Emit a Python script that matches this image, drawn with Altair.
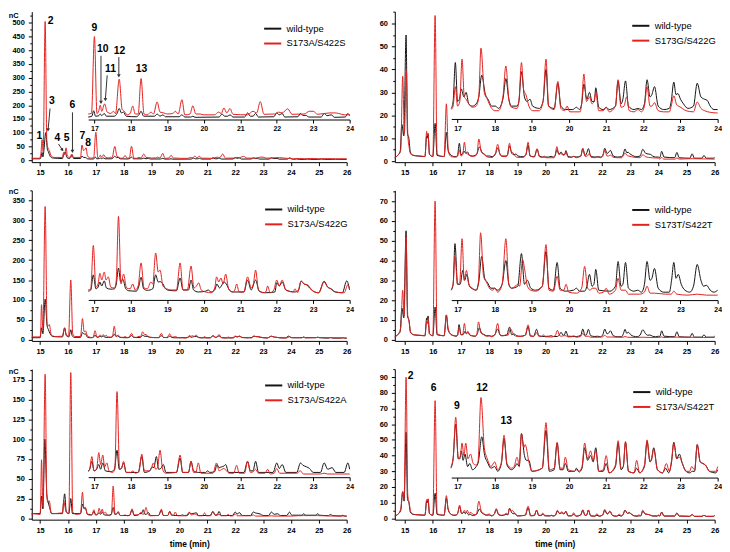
import altair as alt
import pandas as pd

FONT = "Liberation Sans"
WT = "wild-type"
BLACK = "#141414"
RED = "#e4211f"

# ---------------- data (t in min, signal in nC) ----------------
# *_MAIN : points read on the main axes (outside 16.83-24 min)
# *_INSET: points read in the inset, in units of the panel's left axis

# Panel 1: S173A/S422S
P1_MUT = "S173A/S422S"
P1_WT_MAIN = [(14.7,5),(15.0,5),(15.04,15),(15.07,28),(15.1,12),(15.14,40),(15.2,100),(15.26,40),(15.3,30),(15.36,14),(15.45,8),(15.8,6),(15.84,18),(15.87,25),(15.9,30),(15.96,10),(16.05,6),(16.1,10),(16.15,20),(16.2,6),(16.45,6),(16.5,15),(16.56,10),(16.62,10),(16.7,5),(16.8,4),
              (24.1,3),(24.2,4.5),(24.3,3),(24.5,3),(24.6,4),(24.7,3),(25.0,3),(25.1,4),(25.2,3),(25.5,3),(25.6,3.5),(25.7,3),(26.0,3)]
P1_MUT_MAIN = [(14.7,7),(14.98,7),(15.03,25),(15.07,75),(15.11,30),(15.18,505),(15.24,70),(15.28,45),(15.33,35),(15.4,15),(15.5,10),(15.8,10),(15.84,28),(15.88,20),(15.93,45),(15.98,15),(16.07,10),(16.13,22),(16.19,10),(16.45,10),(16.5,55),(16.56,35),(16.6,38),(16.65,45),(16.7,15),(16.8,8),
               (24.1,5),(24.3,6),(24.5,5),(24.8,6),(25.0,5),(25.3,5.5),(25.6,5),(26.0,5)]
P1_WT_INSET = [(16.83,157),(16.93,160),(16.98,180),(17.03,160),(17.12,162),(17.16,168),(17.2,162),(17.27,170),(17.33,160),(17.55,160),(17.62,170),(17.68,188),(17.74,172),(17.8,175),(17.87,160),(18.15,158),(18.22,165),(18.28,178),(18.35,160),(18.65,160),(18.72,168),(18.8,160),(18.88,165),(18.95,158),(19.32,158),(19.4,165),(19.48,157),(19.64,157),(19.7,160),(19.76,156),(20.42,157),(20.5,168),(20.57,160),(20.65,160),(20.72,165),(20.8,157),(21.12,157),(21.2,172),(21.28,160),(21.35,160),(21.42,170),(21.5,157),(21.92,158),(22.0,172),(22.07,165),(22.15,170),(22.22,157),(22.58,158),(22.65,170),(22.72,163),(22.8,163),(22.88,157),(23.22,157),(23.3,170),(23.38,162),(23.5,165),(23.58,156),(23.88,157),(23.95,170),(24.0,162)]
P1_MUT_INSET = [(16.83,168),(16.92,170),(17.0,450),(17.07,170),(17.12,180),(17.16,200),(17.2,178),(17.28,205),(17.35,175),(17.45,170),(17.52,178),(17.58,170),(17.68,295),(17.76,185),(17.82,178),(17.9,165),(17.98,170),(18.05,197),(18.12,168),(18.2,168),(18.28,297),(18.36,168),(18.45,165),(18.55,175),(18.62,168),(18.72,212),(18.8,175),(18.9,172),(19.0,168),(19.15,170),(19.22,178),(19.3,168),(19.4,220),(19.48,165),(19.62,168),(19.7,198),(19.78,168),(19.9,168),(20.0,165),(20.3,165),(20.4,175),(20.48,170),(20.55,190),(20.63,172),(20.72,188),(20.8,167),(21.2,165),(21.35,178),(21.45,172),(21.55,213),(21.65,167),(21.95,168),(22.05,175),(22.15,172),(22.3,187),(22.42,167),(22.75,168),(22.9,178),(23.0,178),(23.12,167),(23.45,172),(23.6,172),(23.7,170),(23.85,165),(24.0,165)]
P1_MAIN_LABELS = [("2",15.38,505),("1",14.975,88),("3",15.42,214),("4",15.62,80),("5",15.95,80),("6",16.16,202),("7",16.52,88),("8",16.72,63)]
P1_MAIN_ARROWS = [(15.356,188,15.285,110,5),(15.66,59,15.80,37,326),(16.16,174,16.16,32,0)]
P1_INSET_LABELS = [("9",17.0,482),("10",17.23,404),("11",17.44,330),("12",17.69,396),("13",18.29,330)]
P1_INSET_ARROWS = [(17.18,380,17.18,210,0),(17.35,309,17.30,220,4),(17.67,375,17.67,307,0)]

# Panel 2: S173G/S422G
P2_MUT = "S173G/S422G"
P2_WT_MAIN = [(14.65,1.5),(14.75,2.5),(14.84,4),(14.9,16),(14.97,11),(15.05,55),(15.1,12),(15.15,10),(15.2,4),(15.3,2.5),(15.5,2.2),(15.72,2),(15.78,11),(15.8,10),(15.83,12),(15.88,3),(16.0,2),(16.08,16.5),(16.15,2.5),(16.4,2),(16.48,12.5),(16.54,5),(16.62,3),(16.75,2),
              (24.05,1.5),(24.12,4.3),(24.2,1.8),(24.58,1.5),(24.66,3.8),(24.74,1.5),(25.12,1.3),(25.2,3.2),(25.28,1.3),(25.55,1.3),(25.62,2.5),(25.7,1.3),(25.95,1.3),(26.0,1.5)]
P2_MUT_MAIN = [(14.65,1.5),(14.75,2.5),(14.86,5),(14.93,37),(14.99,12),(15.06,39.5),(15.11,12),(15.16,6),(15.22,3),(15.35,2.5),(15.6,2.2),(15.72,2),(15.78,13),(15.8,11),(15.83,12),(15.88,3),(16.0,2),(16.08,63.5),(16.15,3),(16.4,2),(16.48,25),(16.55,4),(16.65,2),(16.75,1.8),
               (24.05,0.9),(24.12,1.6),(24.2,0.9),(24.6,0.9),(24.66,1.4),(24.74,0.9),(25.2,1.1),(25.6,1.0),(26.0,0.9)]
P2_WT_INSET = [(16.83,23),(16.88,26),(16.94,43),(17.0,26),(17.05,27),(17.1,31.5),(17.17,28),(17.23,30),(17.3,25),(17.4,24),(17.5,25),(17.57,28),(17.65,37.5),(17.75,29),(17.82,27),(17.92,24),(18.02,24),(18.1,23),(18.22,27),(18.3,36),(18.38,27),(18.45,24),(18.6,24),(18.65,26),(18.72,39),(18.8,28),(18.87,26),(18.95,27),(19.02,24),(19.2,23),(19.3,26),(19.38,40),(19.45,24),(19.6,23),(19.7,34),(19.78,24),(19.9,22.5),(20.1,22.5),(20.2,23.5),(20.28,22.5),(20.34,25),(20.4,33.5),(20.48,27),(20.55,30),(20.62,26),(20.68,26),(20.72,32),(20.8,23.5),(20.92,22.5),(21.0,23.5),(21.08,22.5),(21.25,24),(21.32,35),(21.4,25),(21.45,27),(21.52,35),(21.6,24),(21.75,22.5),(21.85,23),(21.95,22.5),(22.03,25),(22.1,35.5),(22.18,28),(22.23,29),(22.3,32.5),(22.4,24),(22.55,22.5),(22.7,23),(22.75,26),(22.82,34.5),(22.88,29),(22.93,29.5),(23.0,27),(23.08,25),(23.2,23),(23.35,24),(23.45,34),(23.55,28),(23.65,27),(23.72,26.5),(23.8,24),(23.9,22.5),(24.0,22.5)]
P2_MUT_INSET = [(16.83,22.5),(16.88,24),(16.94,32.5),(17.0,24),(17.06,26),(17.12,44.5),(17.18,28),(17.23,27),(17.3,25),(17.4,23.5),(17.5,24),(17.57,28),(17.63,49.3),(17.72,30),(17.8,27),(17.9,23.5),(18.0,22),(18.1,22),(18.22,28),(18.3,41.5),(18.38,27),(18.45,23.5),(18.6,23),(18.65,26),(18.72,43),(18.78,31),(18.84,29),(18.92,24),(19.02,22),(19.2,22),(19.3,26),(19.38,44.5),(19.45,24),(19.6,22.5),(19.7,34.8),(19.78,23),(19.88,22),(19.95,24),(20.02,21.5),(20.3,21.5),(20.34,25),(20.4,38),(20.47,26),(20.55,28),(20.62,25),(20.67,26),(20.72,30),(20.8,22),(20.92,22),(21.0,23.5),(21.08,21.5),(21.25,24),(21.32,35.5),(21.4,23.5),(21.48,24),(21.55,28),(21.62,22),(21.75,21.5),(21.85,22.5),(21.95,21.5),(22.03,24),(22.1,32.5),(22.18,24),(22.23,24),(22.3,25.5),(22.4,22),(22.55,21.5),(22.7,21.5),(22.75,24),(22.82,28.5),(22.9,24.5),(22.95,24),(23.05,23),(23.15,22),(23.35,21.5),(23.45,25.8),(23.55,23),(23.65,22),(23.8,21.3),(24.0,21)]

# Panel 3: S173A/S422G
P3_MUT = "S173A/S422G"
P3_WT_MAIN = [(14.7,5),(15.0,5),(15.05,30),(15.1,15),(15.18,102),(15.25,35),(15.3,25),(15.36,15),(15.45,8),(15.8,7),(15.88,30),(15.94,10),(16.03,7),(16.1,25),(16.15,10),(16.22,6),(16.45,6),(16.52,18),(16.58,14),(16.62,15),(16.7,6),(16.8,5),
              (24.05,5),(24.4,5),(24.46,7),(24.52,5),(24.9,5),(24.96,6.5),(25.02,5),(25.35,4),(25.42,5.5),(25.5,4),(25.8,4),(25.86,5),(25.92,4),(26.0,4)]
P3_MUT_MAIN = [(14.7,7),(15.0,7),(15.02,20),(15.05,88),(15.1,25),(15.18,335),(15.25,40),(15.29,35),(15.33,38),(15.4,12),(15.55,8),(15.8,9),(15.87,28),(15.93,14),(16.02,9),(16.1,150),(16.17,15),(16.25,8),(16.45,8),(16.52,53),(16.58,20),(16.63,22),(16.7,9),(16.8,6),
               (24.05,5),(24.4,5),(24.46,6),(24.52,4.5),(24.95,5.5),(25.4,5),(25.85,4.5),(26.0,4)]
P3_WT_INSET = [(16.83,122),(16.9,125),(16.97,163),(17.04,128),(17.1,132),(17.15,145),(17.2,135),(17.27,148),(17.33,130),(17.45,127),(17.55,128),(17.6,140),(17.66,180),(17.72,145),(17.78,152),(17.86,128),(17.95,123),(18.15,122),(18.22,135),(18.28,157),(18.35,128),(18.45,124),(18.6,128),(18.68,163),(18.75,145),(18.8,146),(18.88,140),(18.95,128),(19.05,124),(19.25,123),(19.35,155),(19.43,125),(19.58,125),(19.65,150),(19.72,125),(19.85,120),(20.05,122),(20.12,125),(20.2,120),(20.3,125),(20.36,140),(20.43,130),(20.5,138),(20.55,145),(20.62,140),(20.7,125),(20.8,120),(21.1,120),(21.2,150),(21.3,125),(21.42,150),(21.52,122),(21.7,118),(21.95,120),(22.0,143),(22.07,135),(22.15,145),(22.25,125),(22.5,120),(22.6,125),(22.67,147),(22.75,140),(22.82,138),(22.9,130),(23.0,122),(23.15,118),(23.3,147),(23.4,132),(23.48,128),(23.6,120),(23.8,118),(23.92,148),(24.0,125)]
P3_MUT_INSET = [(16.83,125),(16.9,128),(16.97,237),(17.04,132),(17.1,140),(17.15,167),(17.2,150),(17.27,170),(17.32,150),(17.38,158),(17.45,132),(17.55,130),(17.6,150),(17.66,310),(17.73,140),(17.8,165),(17.88,130),(17.98,128),(18.05,140),(18.12,125),(18.2,135),(18.28,193),(18.36,130),(18.45,128),(18.55,145),(18.6,140),(18.68,218),(18.75,170),(18.8,175),(18.88,135),(18.98,128),(19.1,125),(19.25,125),(19.35,193),(19.43,125),(19.55,125),(19.65,185),(19.73,130),(19.8,135),(19.86,143),(19.93,125),(20.05,120),(20.2,118),(20.3,130),(20.35,158),(20.41,145),(20.47,155),(20.53,140),(20.6,165),(20.68,128),(20.78,120),(20.85,125),(20.9,140),(20.97,120),(21.1,120),(21.2,158),(21.3,130),(21.36,140),(21.42,175),(21.5,125),(21.62,118),(21.7,120),(21.75,135),(21.82,118),(21.92,125),(22.0,150),(22.07,135),(22.15,150),(22.25,125),(22.45,120),(22.5,128),(22.57,118),(22.67,148),(22.75,140),(22.85,138),(22.92,130),(23.0,122),(23.15,118),(23.3,145),(23.4,132),(23.5,128),(23.62,120),(23.85,118),(23.95,138),(24.0,125)]

# Panel 4: S173T/S422T
P4_MUT = "S173T/S422T"
P4_WT_MAIN = [(14.65,1.5),(14.75,2.5),(14.84,4),(14.9,16),(14.97,11),(15.05,55),(15.1,12),(15.15,10),(15.2,4),(15.3,2.5),(15.5,2.2),(15.72,2),(15.78,11),(15.8,10),(15.83,12),(15.88,3),(16.0,2),(16.08,16.5),(16.15,2.5),(16.4,2),(16.48,12.5),(16.54,5),(16.62,3),(16.75,2),
              (24.05,1.5),(24.12,4.5),(24.2,1.8),(24.58,1.5),(24.66,4),(24.74,1.5),(25.12,1.3),(25.2,3.2),(25.28,1.3),(25.55,1.3),(25.62,2.5),(25.7,1.3),(25.95,1.3),(26.0,1.8)]
P4_MUT_MAIN = [(14.65,1.5),(14.75,2.5),(14.86,6),(14.93,25),(14.98,12),(15.05,52),(15.11,12),(15.16,9),(15.22,3.5),(15.35,2.5),(15.6,2.2),(15.72,2),(15.78,9),(15.8,8),(15.83,11),(15.88,3),(16.0,2),(16.08,70),(16.15,3),(16.4,2),(16.48,12.5),(16.54,6),(16.65,2.5),(16.75,2),
               (24.05,1.1),(24.12,1.4),(24.2,1.1),(24.66,1.3),(25.2,1.2),(25.6,1.1),(26.0,1.1)]
P4_WT_INSET = [(16.83,25),(16.88,28),(16.93,48.5),(17.0,28),(17.07,28),(17.14,35),(17.19,30),(17.25,33),(17.32,27),(17.42,25.5),(17.5,25),(17.57,29),(17.65,42),(17.73,31),(17.8,29),(17.9,26),(18.0,26),(18.08,25),(18.2,28),(18.3,40),(18.38,28),(18.45,26),(18.62,27),(18.72,43.5),(18.8,28),(18.88,30),(18.97,26),(19.1,25),(19.28,27),(19.38,44.5),(19.46,26),(19.58,25),(19.68,39),(19.76,26),(19.9,24.5),(20.12,25),(20.2,26),(20.28,24.5),(20.42,24.5),(20.48,27),(20.55,33),(20.62,27),(20.67,28),(20.72,35.5),(20.8,25),(21.1,24.5),(21.25,27),(21.32,39.5),(21.4,27),(21.45,28),(21.52,39),(21.6,26),(21.75,24.5),(21.85,25),(21.95,24),(22.03,28),(22.1,39.5),(22.18,30),(22.23,31),(22.3,36),(22.4,26),(22.55,24),(22.7,24),(22.76,30),(22.82,39),(22.88,31),(22.94,33),(23.02,28),(23.12,25),(23.25,24),(23.35,27),(23.45,38),(23.55,30),(23.62,27),(23.7,27.5),(23.8,25),(23.9,24),(24.0,25)]
P4_MUT_INSET = [(16.83,25.5),(16.88,28),(16.93,42),(17.0,28),(17.06,29),(17.12,51),(17.18,30),(17.24,35),(17.3,28),(17.4,26),(17.5,25),(17.56,29),(17.62,54),(17.7,32),(17.78,29),(17.88,25.5),(17.95,25),(18.0,26),(18.08,24),(18.2,28),(18.3,51),(18.38,28),(18.45,26),(18.55,27),(18.62,28),(18.67,27),(18.75,40.5),(18.81,35),(18.88,27),(18.97,25),(19.1,24.5),(19.28,27),(19.38,48),(19.46,25),(19.58,24.5),(19.68,32),(19.76,25),(19.86,25),(19.92,28),(19.99,24),(20.2,23.5),(20.34,26),(20.42,37),(20.5,26),(20.57,25),(20.62,26),(20.72,26),(20.8,23.5),(20.93,24),(21.0,26),(21.08,23),(21.25,25),(21.32,31),(21.4,25),(21.52,25),(21.6,23),(21.9,23),(22.03,24),(22.1,27),(22.18,23.5),(22.3,23.5),(22.6,23),(22.75,23),(22.82,24.5),(22.9,23),(23.2,22.5),(23.45,23),(23.7,22.5),(24.0,22.5)]

# Panel 5: S173A/S422A
P5_MUT = "S173A/S422A"
P5_WT_MAIN = [(14.7,6),(14.72,5),(14.76,6),(15.0,6),(15.05,28),(15.1,12),(15.17,100),(15.24,30),(15.28,22),(15.33,15),(15.42,6),(15.8,6),(15.84,20),(15.88,31),(15.94,8),(16.03,6),(16.1,25),(16.16,6),(16.45,6),(16.52,18),(16.58,12),(16.62,13),(16.7,5),(16.8,5),
              (24.05,4),(24.4,4),(24.46,6),(24.52,4),(24.9,4),(24.96,6),(25.02,4),(25.35,3.5),(25.42,5),(25.5,3.5),(25.8,3),(25.86,4),(25.92,3),(26.0,3)]
P5_MUT_MAIN = [(14.7,4),(14.74,6),(15.0,5),(15.02,20),(15.05,74),(15.1,15),(15.18,182),(15.24,28),(15.28,20),(15.33,22),(15.4,6),(15.8,7),(15.85,22),(15.89,15),(15.94,8),(16.03,6),(16.1,184),(16.17,8),(16.3,5),(16.45,6),(16.52,33),(16.57,13),(16.62,14),(16.7,5),(16.8,4),
               (24.05,3),(24.45,3.5),(24.95,3.5),(25.4,3),(25.85,3),(26.0,2.5)]
P5_WT_INSET = [(16.83,60),(16.87,62),(16.93,72),(16.99,60),(17.06,62),(17.12,68),(17.17,62),(17.23,70),(17.3,60),(17.45,59),(17.55,62),(17.62,86),(17.68,62),(17.74,63),(17.8,70),(17.87,58),(18.2,58),(18.3,78),(18.37,58),(18.52,60),(18.58,65),(18.63,64),(18.7,78),(18.76,62),(18.82,63),(18.89,68),(18.96,58),(19.25,58),(19.35,76),(19.42,58),(19.58,58),(19.65,72),(19.72,60),(19.85,58),(20.05,58),(20.1,60),(20.17,58),(20.3,59),(20.36,68),(20.42,64),(20.48,65),(20.55,66),(20.6,68),(20.68,58),(21.1,58),(21.2,72),(21.28,60),(21.35,60),(21.42,72),(21.5,58),(21.9,58),(22.0,70),(22.07,63),(22.15,68),(22.25,58),(22.55,58),(22.65,70),(22.72,67),(22.82,65),(22.9,63),(23.0,58),(23.2,58),(23.3,70),(23.4,62),(23.52,64),(23.62,58),(23.85,58),(23.95,70),(24.0,62)]
P5_MUT_INSET = [(16.83,59),(16.87,62),(16.93,78),(16.99,60),(17.06,62),(17.12,83),(17.17,68),(17.23,80),(17.28,65),(17.34,70),(17.4,60),(17.5,58),(17.56,62),(17.62,160),(17.69,62),(17.74,63),(17.8,72),(17.87,58),(18.0,58),(18.05,60),(18.12,57),(18.22,59),(18.3,81),(18.37,60),(18.5,60),(18.56,63),(18.62,70),(18.68,62),(18.73,64),(18.8,86),(18.87,62),(18.95,57),(19.25,58),(19.35,80),(19.42,58),(19.58,58),(19.65,72),(19.72,58),(19.78,58),(19.85,70),(19.92,57),(20.25,57),(20.35,70),(20.42,60),(20.5,62),(20.55,63),(20.62,60),(20.7,57),(20.82,57),(20.9,67),(20.97,57),(21.12,57),(21.2,72),(21.28,58),(21.36,59),(21.42,62),(21.5,57),(21.68,57),(21.75,62),(21.82,56),(21.93,57),(22.0,63),(22.08,57),(22.55,57),(22.65,60),(22.73,56),(23.2,56),(23.3,57),(23.4,56),(24.0,56)]

# Panel 6: S173A/S422T
P6_MUT = "S173A/S422T"
P6_WT_MAIN = [(14.65,1.5),(14.75,2.5),(14.86,5),(14.93,17),(14.98,11),(15.05,55),(15.1,12),(15.15,10),(15.2,4),(15.3,2.5),(15.5,2.2),(15.72,2),(15.78,11),(15.8,10),(15.83,12),(15.88,3),(16.0,2),(16.08,16),(16.15,2.5),(16.4,2),(16.48,13),(16.54,6),(16.62,3),(16.75,2),
              (24.05,1.5),(24.12,4),(24.2,1.5),(24.58,1.5),(24.66,3.5),(24.74,1.5),(25.12,1.3),(25.2,2.5),(25.28,1.3),(25.55,1.3),(25.62,2),(25.7,1.3),(25.95,1.3),(26.0,1.8)]
P6_MUT_MAIN = [(14.65,1.5),(14.75,2.5),(14.86,6),(14.93,17),(14.98,12),(15.05,90),(15.11,15),(15.16,10),(15.22,4),(15.35,2.5),(15.6,2.2),(15.72,2),(15.78,12),(15.8,11),(15.83,12.5),(15.88,3),(16.0,2),(16.08,75),(16.15,3),(16.4,2),(16.48,14.5),(16.54,6),(16.65,2.5),(16.75,2),
               (24.05,1.5),(24.12,4),(24.2,1.5),(24.58,1.5),(24.66,3.3),(24.74,1.5),(25.12,1.3),(25.2,2.5),(25.28,1.3),(25.55,1.3),(25.62,2),(25.7,1.3),(25.95,1.3),(26.0,1.8)]
P6_WT_INSET = [(16.82,32),(16.88,38),(16.95,60),(17.02,38),(17.06,38),(17.1,43),(17.15,37),(17.2,41),(17.27,33),(17.33,35),(17.4,31),(17.5,33),(17.56,36),(17.65,52),(17.73,40),(17.8,36),(17.9,32),(18.0,33),(18.08,30),(18.18,35),(18.25,51),(18.33,34),(18.45,31),(18.55,33),(18.6,35),(18.66,33),(18.72,54),(18.8,40),(18.85,37),(18.92,37),(19.0,30),(19.28,32),(19.38,56),(19.47,30),(19.6,31),(19.68,48),(19.76,31),(19.84,31),(19.9,35),(19.98,30),(20.15,30),(20.2,32),(20.27,29.5),(20.35,32),(20.42,45),(20.5,37),(20.58,40),(20.65,36),(20.72,45),(20.8,30),(20.92,30),(21.0,35),(21.08,29),(21.25,33),(21.32,48),(21.4,31),(21.46,33),(21.52,48.5),(21.6,30),(21.75,29),(21.82,32),(21.9,29),(22.03,33),(22.1,49),(22.18,36),(22.22,38),(22.28,45),(22.38,31),(22.52,29),(22.6,32),(22.68,29),(22.76,36),(22.82,48.5),(22.9,38),(22.97,41),(23.05,35),(23.15,30),(23.25,29),(23.32,30),(23.38,30),(23.45,47),(23.53,36),(23.6,35),(23.67,34),(23.78,30),(23.95,29),(24.0,31)]
P6_MUT_INSET = [(16.82,33),(16.88,38),(16.95,64.5),(17.02,38),(17.07,39),(17.12,48),(17.17,40),(17.22,48),(17.28,38),(17.35,41),(17.42,35),(17.5,34),(17.55,36),(17.63,77),(17.72,45),(17.8,38),(17.9,33),(18.0,36),(18.08,31),(18.18,36),(18.25,53),(18.33,35),(18.45,32),(18.52,33),(18.6,39),(18.66,34),(18.72,54),(18.78,45),(18.82,47),(18.92,36),(19.0,30),(19.28,32),(19.38,61),(19.47,31),(19.6,32),(19.68,48.5),(19.76,32),(19.84,32),(19.9,39),(19.98,31),(20.15,30),(20.2,31),(20.27,30),(20.35,33),(20.42,48),(20.5,38),(20.58,43),(20.65,37),(20.72,43),(20.8,30),(20.92,31),(21.0,40),(21.08,29),(21.25,34),(21.32,49.5),(21.4,32),(21.46,33),(21.52,49),(21.6,30),(21.75,29),(21.82,37),(21.9,29),(22.03,34),(22.1,50),(22.18,36),(22.22,37),(22.28,44),(22.38,31),(22.52,29),(22.62,35),(22.7,30),(22.76,37),(22.82,48),(22.9,38),(22.97,39),(23.05,35),(23.15,30),(23.25,30),(23.3,33),(23.38,31),(23.45,47),(23.53,36),(23.6,35),(23.67,34),(23.78,30),(23.95,30),(24.0,33)]
P6_MAIN_LABELS = [("2",15.21,90.4),("6",16.03,83)]
P6_INSET_LABELS = [("9",16.98,71.5),("12",17.66,83),("13",18.31,62)]

# ---------------- layout / style ----------------
H = 152
W_LEFT, W_RIGHT = 318, 323
INSET_DOM = [16.83, 24.0]
INSET_X0 = 57

PANELS = [
    dict(mut=P1_MUT, wt_main=P1_WT_MAIN, mut_main=P1_MUT_MAIN, wt_in=P1_WT_INSET, mut_in=P1_MUT_INSET,
         W=W_LEFT, xdom=[14.7, 26], ydom=[-7.2, 540.7], major=50, minor=25, off=145, k=3.0, iax=148,
         leg=(233.3, 16.2), ncy=3.6, xt=False,
         ml=P1_MAIN_LABELS, ma=P1_MAIN_ARROWS, il=P1_INSET_LABELS, ia=P1_INSET_ARROWS),
    dict(mut=P2_MUT, wt_main=P2_WT_MAIN, mut_main=P2_MUT_MAIN, wt_in=P2_WT_INSET, mut_in=P2_MUT_INSET,
         W=W_RIGHT, xdom=[14.65, 26], ydom=[-0.43, 65.2], major=10, minor=5, off=16.4, k=3.4, iax=18.4,
         leg=(238.4, 13.3), ncy=None, xt=False, ml=[], ma=[], il=[], ia=[]),
    dict(mut=P3_MUT, wt_main=P3_WT_MAIN, mut_main=P3_MUT_MAIN, wt_in=P3_WT_INSET, mut_in=P3_MUT_INSET,
         W=W_LEFT, xdom=[14.7, 26], ydom=[-3, 375.4], major=50, minor=25, off=89.5, k=6.5, iax=100,
         leg=(234.3, 18.3), ncy=1.5, xt=False, ml=[], ma=[], il=[], ia=[]),
    dict(mut=P4_MUT, wt_main=P4_WT_MAIN, mut_main=P4_MUT_MAIN, wt_in=P4_WT_INSET, mut_in=P4_MUT_INSET,
         W=W_RIGHT, xdom=[14.65, 26], ydom=[-0.6, 75.4], major=10, minor=5, off=18, k=4.0, iax=20,
         leg=(238.4, 18.8), ncy=None, xt=False, ml=[], ma=[], il=[], ia=[]),
    dict(mut=P5_MUT, wt_main=P5_WT_MAIN, mut_main=P5_MUT_MAIN, wt_in=P5_WT_INSET, mut_in=P5_MUT_INSET,
         W=W_LEFT, xdom=[14.7, 26], ydom=[-1.6, 188.4], major=25, minor=12.5, off=48, k=2.75, iax=52,
         leg=(234.3, 15.5), ncy=2.5, xt=True, ml=[], ma=[], il=[], ia=[]),
    dict(mut=P6_MUT, wt_main=P6_WT_MAIN, mut_main=P6_MUT_MAIN, wt_in=P6_WT_INSET, mut_in=P6_MUT_INSET,
         W=W_RIGHT, xdom=[14.65, 26], ydom=[-0.8, 95.1], major=10, minor=5, off=22, k=5.0, iax=26,
         leg=(239.4, 22.2), ncy=None, xt=True, ml=P6_MAIN_LABELS, ma=[], il=P6_INSET_LABELS, ia=[]),
]


def frame(name, pts):
    pts = sorted(pts)
    return pd.DataFrame({"t": [p[0] for p in pts], "y": [p[1] for p in pts], "series": name})


def tick_values(lo, hi, step):
    n = int(hi / step + 1e-9)
    return [round(i * step, 3) for i in range(n + 1) if lo <= i * step <= hi]


def minor_axis(values, major, fs=7.5, **kw):
    test = f"abs(datum.value / {major} - round(datum.value / {major})) < 0.001"
    return alt.Axis(values=values, labelExpr=f"{test} ? datum.label : ''",
                    tickSize={"condition": {"test": test, "value": 3.5}, "value": 2},
                    labelFontSize={"condition": {"test": test, "value": fs}, "value": 0},
                    labelOverlap=False, labelFlush=False, **kw)


def make_panel(p):
    W = p["W"]
    d0, d1 = p["ydom"]
    xs = alt.Scale(domain=p["xdom"], nice=False, zero=False)
    ys = alt.Scale(domain=p["ydom"], nice=False, zero=False)
    xi = alt.Scale(domain=INSET_DOM, range=[INSET_X0, W + 3], nice=False, zero=False)
    cs = alt.Scale(domain=[WT, p["mut"]], range=[BLACK, RED])

    x_axis = minor_axis(tick_values(p["xdom"][0], 26, 0.5), 1, format="d", labelPadding=3,
                        title="time (min)" if p["xt"] else None, titlePadding=6)
    yvals = tick_values(0, d1, p["minor"])
    if p["ncy"] is not None:
        y_axis = minor_axis(yvals, p["major"], format="d", labelPadding=4, title="nC",
                            titleAngle=0, titleX=-23.7, titleY=p["ncy"], titleAlign="left",
                            titleBaseline="middle", titleFontSize=7.5)
    else:
        y_axis = minor_axis(yvals, p["major"], format="d", labelPadding=4, title=None)
    off_px = -(p["iax"] - d0) / (d1 - d0) * H
    xi_axis = minor_axis(tick_values(17, 24, 0.5), 1, fs=7, orient="bottom", offset=off_px, format="d",
                         labelPadding=2, title=None)
    legend = alt.Legend(title=None, orient="none", legendX=p["leg"][0], legendY=p["leg"][1] - 9,
                        symbolType="stroke", symbolSize=300, symbolStrokeWidth=2, labelFontSize=9.5,
                        labelFont=FONT, labelColor="black", labelOffset=4, rowPadding=-7.5, padding=0)
    color = alt.Color("series:N", scale=cs, legend=legend)

    # main traces: inset readings mapped back to the main axis
    off, k = p["off"], p["k"]
    wt_pts = list(p["wt_main"]) + [(t, (v - off) / k) for t, v in p["wt_in"]]
    mu_pts = list(p["mut_main"]) + [(t, (v - off) / k) for t, v in p["mut_in"]]
    df_main = pd.concat([frame(WT, wt_pts), frame(p["mut"], mu_pts)], ignore_index=True)
    df_in = pd.concat([frame(WT, p["wt_in"]), frame(p["mut"], p["mut_in"])], ignore_index=True)

    main_layers = [alt.Chart(df_main).mark_line(interpolate="monotone", strokeWidth=1).encode(
        x=alt.X("t:Q", scale=xs, axis=x_axis), y=alt.Y("y:Q", scale=ys, axis=y_axis), color=color)]
    inset_layers = [alt.Chart(df_in).mark_line(interpolate="monotone", strokeWidth=1).encode(
        x=alt.X("t:Q", scale=xi, axis=xi_axis), y=alt.Y("y:Q", scale=ys, axis=y_axis), color=color)]

    def ann(labels, arrows, xscale, xaxis, target):
        if arrows:
            da = pd.DataFrame(arrows, columns=["x1", "y1", "x2", "y2", "ang"])
            target.append(alt.Chart(da).mark_rule(color="#333333", strokeWidth=1).encode(
                x=alt.X("x1:Q", scale=xscale, axis=xaxis), x2="x2:Q",
                y=alt.Y("y1:Q", scale=ys, axis=y_axis), y2="y2:Q"))
            target.append(alt.Chart(da).mark_point(shape="triangle-down", filled=True, size=14,
                                                  color="#333333", opacity=1).encode(
                x=alt.X("x2:Q", scale=xscale, axis=xaxis), y=alt.Y("y2:Q", scale=ys, axis=y_axis),
                angle=alt.Angle("ang:Q", scale=None)))
        if labels:
            dl = pd.DataFrame(labels, columns=["label", "t", "v"])
            target.append(alt.Chart(dl).mark_text(font=FONT, fontWeight="bold", fontSize=10.5,
                                                 color="black").encode(
                x=alt.X("t:Q", scale=xscale, axis=xaxis), y=alt.Y("v:Q", scale=ys, axis=y_axis),
                text="label:N"))

    ann(p["ml"], p["ma"], xs, x_axis, main_layers)
    ann(p["il"], p["ia"], xi, xi_axis, inset_layers)

    main_group = alt.layer(*main_layers)
    inset_group = alt.layer(*inset_layers)
    return alt.layer(main_group, inset_group).resolve_scale(x="independent").properties(width=W, height=H)


panels = [make_panel(p) for p in PANELS]
chart = alt.concat(*panels, columns=2, spacing={"row": 28.5, "column": 48.6}, bounds="flush").resolve_scale(
    color="independent"
).properties(
    padding={"left": 0, "top": 0, "right": 0, "bottom": 0}
).configure(font=FONT).configure_axis(
    domainColor="black", tickColor="black", labelColor="black", labelFont=FONT, labelFontWeight="bold",
    labelFontSize=7.5, titleFont=FONT, titleFontWeight="bold", titleFontSize=8.5, titleColor="black",
    grid=False, domainWidth=1, tickWidth=1
).configure_view(stroke=None)

chart.save("out.html", embed_options={"renderer": "svg", "actions": False})
